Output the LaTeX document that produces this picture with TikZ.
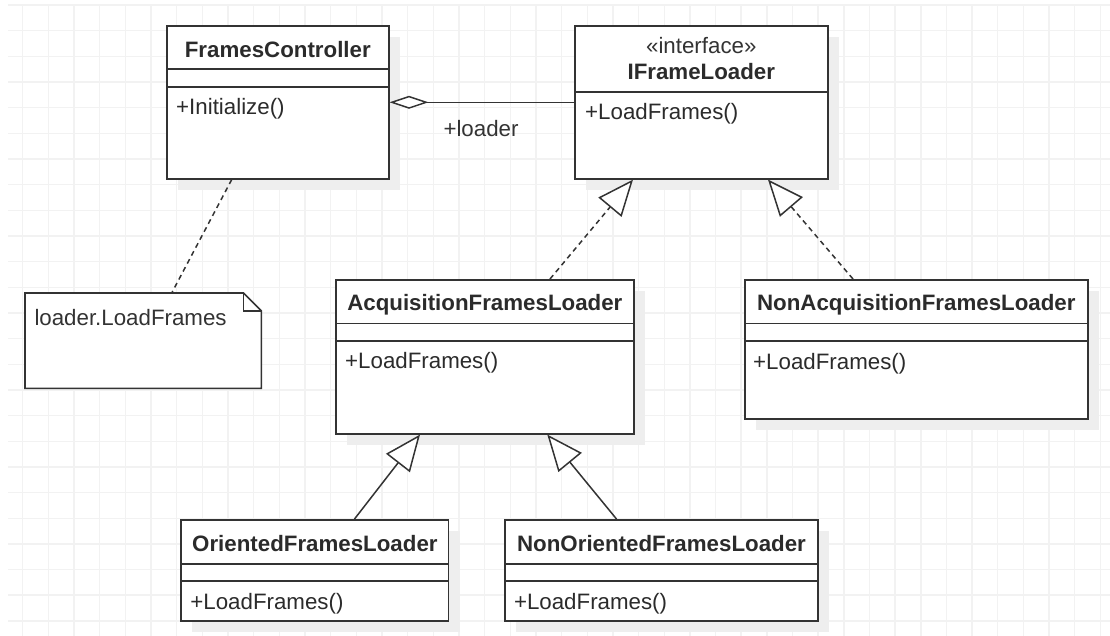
\documentclass[tikz,border=0pt]{standalone}
\usepackage{fontspec}
\setmainfont{Liberation Sans}
\usetikzlibrary{arrows.meta,calc,shadows}
\definecolor{ink}{HTML}{333333}
\definecolor{txt}{HTML}{2B2B2B}
\definecolor{gridc}{HTML}{F2F2F2}
\definecolor{shad}{HTML}{EEEEEE}
\begin{document}
\begin{tikzpicture}[x=1pt,y=-1pt,
  cls/.style={draw=ink,line width=1.6pt,fill=white,anchor=north west,inner sep=0pt,
    drop shadow={shadow xshift=11pt,shadow yshift=-11pt,fill=shad,opacity=1}},
  sepline/.style={draw=ink,line width=1.6pt},
  titletext/.style={font=\fontsize{22.3}{26}\selectfont\bfseries,text=txt,inner sep=0pt,anchor=mid},
  methtext/.style={font=\fontsize{22.3}{26}\selectfont,text=txt,inner sep=0pt,anchor=mid west},
  conn/.style={draw=ink,line width=1.5pt},
  dashconn/.style={conn,dash pattern=on 5pt off 4pt},
  realize/.style={dashconn,-{Triangle[open,length=36pt,width=30pt,fill=white]}},
  general/.style={conn,-{Triangle[open,length=36pt,width=30pt,fill=white]}},
  aggr/.style={conn,{Diamond[open,length=39pt,width=13pt,fill=white]}-},
  gridline/.style={draw=gridc,line width=1.4pt}
]
% background and margins
\fill[white] (0,0) rectangle (1110,636);
\useasboundingbox (0,0) rectangle (1110,636);
% grid
\foreach \k in {0,...,42} {\draw[gridline] ({22.7+25.66*\k},5) -- ({22.7+25.66*\k},636);}
\foreach \k in {0,...,24} {\draw[gridline] (8,{5+25.66*\k}) -- (1110,{5+25.66*\k});}

% FramesController
\node[cls,minimum width=222pt,minimum height=153pt] (fc) at (166,25) {};
\draw[sepline] ($(fc.north west)+(0,44.3)$) -- ($(fc.north east)+(0,44.3)$);
\draw[sepline] ($(fc.north west)+(0,62.3)$) -- ($(fc.north east)+(0,62.3)$);
\node[titletext] (fct) at ($(fc.north)+(0,29.5)$) {FramesController};
\node[methtext] (fcm) at ($(fc.north west)+(10,87.2)$) {+Initialize()};

% IFrameLoader
\node[cls,minimum width=253pt,minimum height=153pt] (ifl) at (574,25) {};
\draw[sepline] ($(ifl.north west)+(0,67.3)$) -- ($(ifl.north east)+(0,67.3)$);
\node[methtext,anchor=mid,text=ink] (iflst) at ($(ifl.north)+(0,25.5)$) {«interface»};
\node[titletext] (iflt) at ($(ifl.north)+(0,52.2)$) {IFrameLoader};
\node[methtext] (iflm) at ($(ifl.north west)+(11,92.2)$) {+LoadFrames()};

% AcquisitionFramesLoader
\node[cls,minimum width=298pt,minimum height=154pt] (afl) at (335,279) {};
\draw[sepline] ($(afl.north west)+(0,44.3)$) -- ($(afl.north east)+(0,44.3)$);
\draw[sepline] ($(afl.north west)+(0,62)$) -- ($(afl.north east)+(0,62)$);
\node[titletext] (aflt) at ($(afl.north)+(0,29.2)$) {AcquisitionFramesLoader};
\node[methtext] (aflm) at ($(afl.north west)+(10,86.5)$) {+LoadFrames()};

% NonAcquisitionFramesLoader
\node[cls,minimum width=343pt,minimum height=139pt] (nafl) at (744,279) {};
\draw[sepline] ($(nafl.north west)+(0,44.3)$) -- ($(nafl.north east)+(0,44.3)$);
\draw[sepline] ($(nafl.north west)+(0,61.7)$) -- ($(nafl.north east)+(0,61.7)$);
\node[titletext] (naflt) at ($(nafl.north)+(0,29.2)$) {NonAcquisitionFramesLoader};
\node[methtext] (naflm) at ($(nafl.north west)+(9,87.5)$) {+LoadFrames()};

% OrientedFramesLoader
\node[cls,minimum width=267.4pt,minimum height=101pt] (ofl) at (180.4,519) {};
\draw[sepline] ($(ofl.north west)+(0,45)$) -- ($(ofl.north east)+(0,45)$);
\draw[sepline] ($(ofl.north west)+(0,62)$) -- ($(ofl.north east)+(0,62)$);
\node[titletext] (oflt) at ($(ofl.north)+(0,29.8)$) {OrientedFramesLoader};
\node[methtext] (oflm) at ($(ofl.north west)+(9.8,88.2)$) {+LoadFrames()};

% NonOrientedFramesLoader
\node[cls,minimum width=313.4pt,minimum height=101pt] (nofl) at (504,519) {};
\draw[sepline] ($(nofl.north west)+(0,45)$) -- ($(nofl.north east)+(0,45)$);
\draw[sepline] ($(nofl.north west)+(0,62)$) -- ($(nofl.north east)+(0,62)$);
\node[titletext] (noflt) at ($(nofl.north)+(0,29.8)$) {NonOrientedFramesLoader};
\node[methtext] (noflm) at ($(nofl.north west)+(9.8,88.2)$) {+LoadFrames()};

% Note
\node[anchor=north west,inner sep=0pt,minimum width=236pt,minimum height=95pt] (note) at (25,293) {};
\draw[sepline,fill=white] (note.north west) -- ($(note.north east)+(-18,0)$) -- ($(note.north east)+(0,18)$)
  -- (note.south east) -- (note.south west) -- cycle;
\draw[sepline,line width=1.3pt] ($(note.north east)+(-18,0)$) -- ($(note.north east)+(-18,18)$) -- ($(note.north east)+(0,18)$);
\node[methtext,text=ink] (notet) at ($(note.north west)+(9.3,29.5)$) {loader.LoadFrames};

% connectors
\draw[aggr] (fc.east) -- (ifl.west);
\node[methtext,anchor=mid,text=ink] (lbl) at (481,133.5) {+loader};
\draw[dashconn] ($(fc.south west)+(65.7,0)$) -- ($(note.north west)+(146.7,0)$);
\draw[realize] ($(afl.north west)+(215,0)$) -- ($(ifl.south west)+(59,0)$);
\draw[realize] ($(nafl.north west)+(109,0)$) -- ($(ifl.south west)+(194,0)$);
\draw[general] ($(ofl.north west)+(174.1,0)$) -- ($(afl.south west)+(85,0)$);
\draw[general] ($(nofl.north west)+(112.5,0)$) -- ($(afl.south west)+(212.3,0)$);
\end{tikzpicture}
\end{document}
